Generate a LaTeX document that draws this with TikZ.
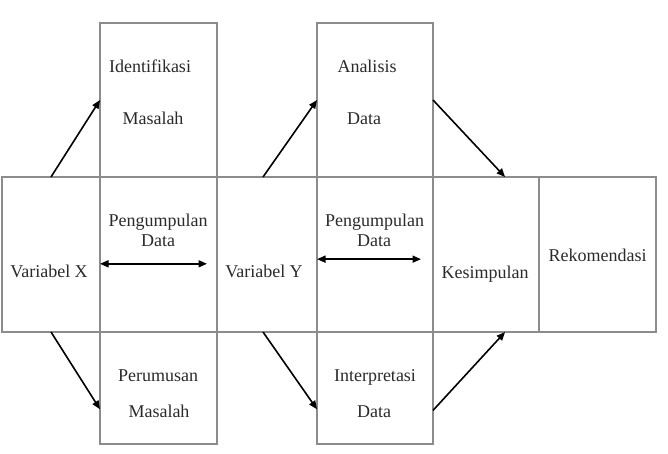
\documentclass[tikz,border=0pt]{standalone}
\usepackage{fontspec}
\setmainfont{Liberation Serif}
\usetikzlibrary{calc,arrows.meta}
\definecolor{boxgray}{HTML}{8C8C8C}
\definecolor{txtgray}{HTML}{2A2A2A}
\begin{document}
\begin{tikzpicture}[x=1pt,y=-1pt,
  box/.style={draw=boxgray, line width=1.1pt, anchor=north west, inner sep=0pt, outer sep=0pt},
  tx/.style={font=\fontsize{18}{20}\selectfont, text=txtgray, anchor=base, inner sep=0pt},
  arr/.style={draw=black, line width=1.6pt, -{Triangle[length=8.5pt,width=7pt]}},
  darr/.style={draw=black, line width=1.6pt, {Triangle[length=8.5pt,width=7pt]}-{Triangle[length=8.5pt,width=7pt]}}]
\useasboundingbox (0,0) rectangle (668,454);
% boxes
\node[box, minimum width=98pt, minimum height=155pt] (vx) at (2,177) {};
\node[box, minimum width=117pt, minimum height=154pt] (idm) at (100,23) {};
\node[box, minimum width=117pt, minimum height=155pt] (pd1) at (100,177) {};
\node[box, minimum width=117pt, minimum height=112pt] (pm) at (100,332) {};
\node[box, minimum width=100pt, minimum height=155pt] (vy) at (217,177) {};
\node[box, minimum width=116pt, minimum height=154pt] (an) at (317,23) {};
\node[box, minimum width=116pt, minimum height=155pt] (pd2) at (317,177) {};
\node[box, minimum width=116pt, minimum height=112pt] (ip) at (317,332) {};
\node[box, minimum width=106pt, minimum height=155pt] (ks) at (433,177) {};
\node[box, minimum width=117pt, minimum height=155pt] (rk) at (539,177) {};
% texts
\node[tx] (t1) at (150,72.7) {Identifikasi};
\node[tx] (t2) at (153,125) {Masalah};
\node[tx] (t3) at (158,226) {Pengumpulan};
\node[tx] (t4) at (158,246) {Data};
\node[tx] (t5) at (49,277.7) {Variabel X};
\node[tx] (t6) at (158,381) {Perumusan};
\node[tx] (t7) at (159,417.7) {Masalah};
\node[tx] (t8) at (367,72.7) {Analisis};
\node[tx] (t9) at (364,125) {Data};
\node[tx] (t10) at (374.5,226) {Pengumpulan};
\node[tx] (t11) at (374,246) {Data};
\node[tx] (t12) at (264,277.7) {Variabel Y};
\node[tx] (t13) at (375,381) {Interpretasi};
\node[tx] (t14) at (374,417.7) {Data};
\node[tx] (t15) at (485,278) {Kesimpulan};
\node[tx] (t16) at (597.5,261) {Rekomendasi};
% arrows
\draw[arr] (vx.north) -- (idm.west);
\draw[arr] (vx.south) -- ($(pm.north west)!0.69!(pm.south west)$);
\draw[arr] ($(vy.north west)!0.46!(vy.north east)$) -- (an.west);
\draw[arr] ($(vy.south west)!0.46!(vy.south east)$) -- ($(ip.north west)!0.69!(ip.south west)$);
\draw[arr] (an.east) -- ($(ks.north west)!0.68!(ks.north east)$);
\draw[arr] ($(ip.north east)!0.70!(ip.south east)$) -- ($(ks.south west)!0.68!(ks.south east)$);
\draw[darr, shorten >=10pt] ($(pd1.north west)!0.56!(pd1.south west)$) -- ($(pd1.north east)!0.56!(pd1.south east)$);
\draw[darr, shorten >=12pt] ($(pd2.north west)!0.53!(pd2.south west)$) -- ($(pd2.north east)!0.53!(pd2.south east)$);
\end{tikzpicture}
\end{document}
